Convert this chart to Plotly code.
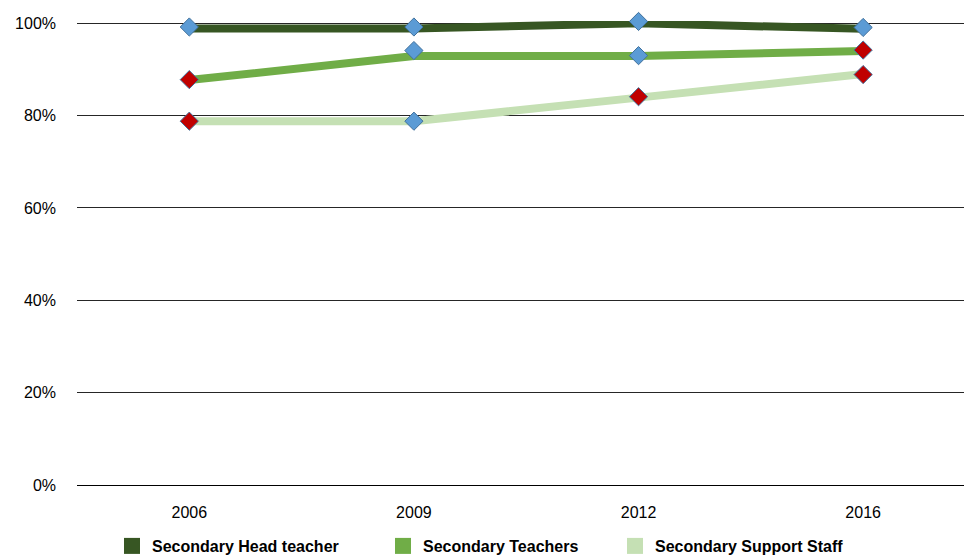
import plotly.graph_objects as go

years = ["2006", "2009", "2012", "2016"]

head_line = [98.9, 98.9, 100.0, 98.8]
teach_line = [87.7, 92.9, 92.9, 94.0]
support_line = [78.8, 78.8, 83.9, 89.0]

head_marker = [99.2, 99.2, 100.4, 99.1]
teach_marker = [87.8, 94.1, 93.0, 94.2]
support_marker = [78.8, 78.8, 84.1, 88.9]

# significance flag: True -> red diamond, False -> blue diamond
head_sig = [False, False, False, False]
teach_sig = [True, False, False, True]
support_sig = [True, False, True, True]

names = ["Secondary Head teacher", "Secondary Teachers", "Secondary Support Staff"]
colors = ["#375623", "#70AD47", "#C5E0B4"]
lines = [head_line, teach_line, support_line]
markers = [head_marker, teach_marker, support_marker]
sigs = [head_sig, teach_sig, support_sig]

FONT = "Liberation Sans"

fig = go.Figure()

for nm, col, ln in zip(names, colors, lines):
    fig.add_trace(go.Scatter(
        x=years, y=ln, mode="lines", name=nm,
        line=dict(color=col, width=8),
        showlegend=False, cliponaxis=False, hoverinfo="skip"))

for mk, sg in zip(markers, sigs):
    fig.add_trace(go.Scatter(
        x=years, y=mk, mode="markers", showlegend=False, cliponaxis=False,
        marker=dict(symbol="diamond", size=14,
                    color=["#C00000" if s else "#5B9BD5" for s in sg],
                    line=dict(color="#41719C", width=1))))

# legend entries (square swatches)
for i, (nm, col) in enumerate(zip(names, colors)):
    lg = "legend" if i == 0 else f"legend{i+1}"
    fig.add_trace(go.Scatter(
        x=[None], y=[None], mode="markers", name=nm, legend=lg,
        marker=dict(symbol="square", size=22, color=col)))

W, H = 964, 559
L, T, B = 77, 21, 74

legend_x = [112, 383, 615]
layout_legends = {}
for i in range(3):
    key = "legend" if i == 0 else f"legend{i+1}"
    layout_legends[key] = dict(
        xref="container", yref="container",
        x=legend_x[i] / W, xanchor="left",
        y=(H - 546) / H, yanchor="middle",
        orientation="h", bgcolor="rgba(0,0,0,0)",
        font=dict(family=FONT, size=16, color="#000000", weight="bold"),
        itemsizing="trace")

fig.update_layout(
    width=W, height=H,
    margin=dict(l=L, r=0, t=T, b=B, autoexpand=False),
    paper_bgcolor="white", plot_bgcolor="white",
    font=dict(family=FONT, size=16, color="#000000"),
    **layout_legends,
)

fig.update_xaxes(
    type="category", range=[-0.5, 3.449], automargin=False,
    showgrid=False, showline=False, zeroline=False,
    ticks="", ticklabelstandoff=16,
    tickfont=dict(family=FONT, size=16, color="#000000"))

fig.update_yaxes(
    range=[0, 100.5], tickvals=[0, 20, 40, 60, 80, 100], automargin=False,
    ticktext=["0%", "20%", "40%", "60%", "80%", "100%"],
    showgrid=True, gridcolor="#262626", gridwidth=1,
    zeroline=True, zerolinecolor="#000000", zerolinewidth=1,
    showline=False, ticks="", ticklabelstandoff=20,
    tickfont=dict(family=FONT, size=16, color="#000000"))

fig.write_html(
    "out.html",
    config={"displayModeBar": False},
    post_script="document.body.style.margin='0px';document.body.style.overflow='hidden';")
